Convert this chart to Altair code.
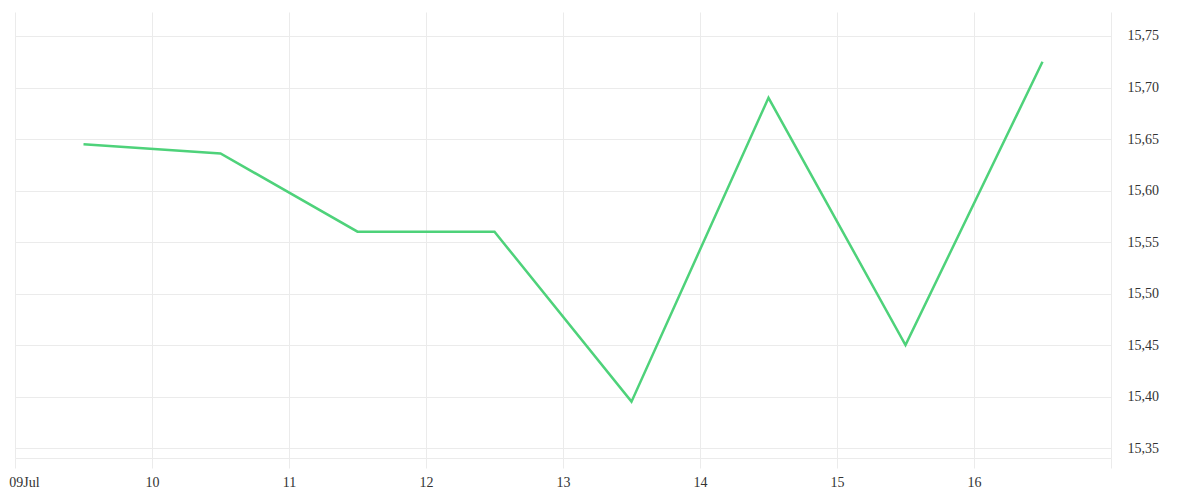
import altair as alt
import pandas as pd

dates = ["2024-07-09T12:00:00", "2024-07-10T12:00:00", "2024-07-11T12:00:00",
         "2024-07-12T12:00:00", "2024-07-13T12:00:00", "2024-07-14T12:00:00",
         "2024-07-15T12:00:00", "2024-07-16T12:00:00"]
values = [15.645, 15.636, 15.560, 15.560, 15.395, 15.690, 15.450, 15.725]
x_ticks = ["2024-07-09T00:00:00", "2024-07-10T00:00:00", "2024-07-11T00:00:00",
           "2024-07-12T00:00:00", "2024-07-13T00:00:00", "2024-07-14T00:00:00",
           "2024-07-15T00:00:00", "2024-07-16T00:00:00", "2024-07-17T00:00:00"]
y_ticks = [15.35, 15.40, 15.45, 15.50, 15.55, 15.60, 15.65, 15.70, 15.75]

df = pd.DataFrame({"date": dates, "value": values})

GRID = "#ebebeb"
FONT = "Liberation Serif"

chart = alt.Chart(df).mark_line(color="#4ed27a", strokeWidth=2.5).encode(
    x=alt.X("date:T",
            scale=alt.Scale(domain=[x_ticks[0], x_ticks[-1]]),
            axis=alt.Axis(
                title=None,
                values=x_ticks,
                labelExpr="datum.index == 0 ? timeFormat(datum.value, '%d%b') : (datum.index == 1 ? '' : timeFormat(datum.value, '%d'))",
                labelOffset={"condition": {"test": "datum.index == 0", "value": 9}, "value": 0},
                grid=True, gridColor=GRID,
                tickColor=GRID, tickSize=10,
                domainColor=GRID,
                labelFont=FONT, labelFontSize=14, labelColor="#333333",
                labelPadding=7, labelFlush=False,
            )),
    y=alt.Y("value:Q",
            scale=alt.Scale(domain=[15.3403, 15.7733], nice=False, zero=False),
            axis=alt.Axis(
                title=None, orient="right",
                values=y_ticks,
                labelExpr="replace(format(datum.value, '.2f'), '.', ',')",
                grid=True, gridColor=GRID,
                ticks=False, domain=False,
                labelFont=FONT, labelFontSize=14, labelColor="#333333",
                labelPadding=16,
            )),
).properties(
    width=1096, height=446,
    autosize=alt.AutoSizeParams(type="none"),
    padding={"left": 7, "top": 4, "right": 80, "bottom": 30},
).configure_view(stroke=None)

chart.save("out.html", embed_options={"renderer": "svg", "actions": False})
